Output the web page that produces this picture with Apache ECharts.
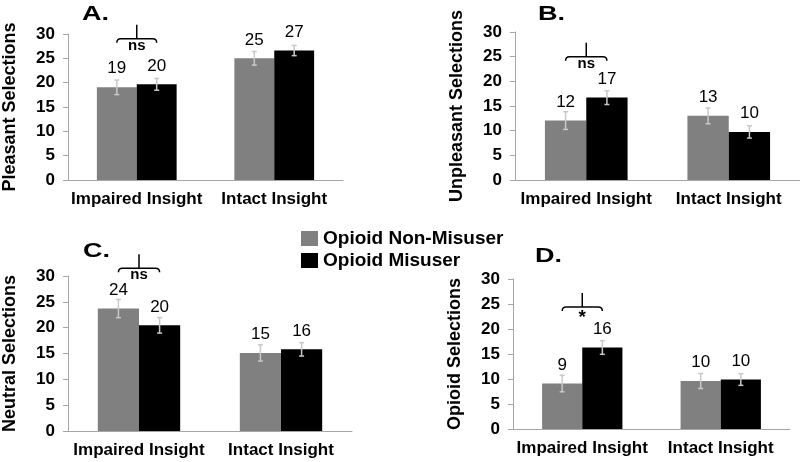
<!DOCTYPE html>
<html><head><meta charset="utf-8">
<script src="https://cdn.jsdelivr.net/npm/echarts@6/dist/echarts.min.js"></script>
<style>html,body{margin:0;padding:0;background:#fff}#c{width:800px;height:462px}</style>
</head><body><div id="c"></div>
<script>
// ---- data ----
const categories = ['Impaired Insight', 'Intact Insight'];
const seriesNames = ['Opioid Non-Misuser', 'Opioid Misuser'];
const yTickValues = [0, 5, 10, 15, 20, 25, 30];
const panelLetters = ['A.', 'B.', 'C.', 'D.'];
const yAxisNames = ['Pleasant Selections', 'Unpleasant Selections', 'Neutral Selections', 'Opioid Selections'];

const pleasantNonMisuser = [19.05, 25.0];
const pleasantMisuser = [19.65, 26.6];
const pleasantNonMisuserErr = [1.5, 1.4];
const pleasantMisuserErr = [1.2, 1.05];

const unpleasantNonMisuser = [12.05, 13.0];
const unpleasantMisuser = [16.7, 9.75];
const unpleasantNonMisuserErr = [1.8, 1.6];
const unpleasantMisuserErr = [1.4, 1.25];

const neutralNonMisuser = [23.7, 15.1];
const neutralMisuser = [20.45, 15.8];
const neutralNonMisuserErr = [1.77, 1.57];
const neutralMisuserErr = [1.5, 1.29];

const opioidNonMisuser = [9.1, 9.6];
const opioidMisuser = [16.3, 9.9];
const opioidNonMisuserErr = [1.66, 1.5];
const opioidMisuserErr = [1.36, 1.17];

const sigLabels = ['ns', 'ns', 'ns', '*'];
const sigLevels = [29.0, 25.0, 31.5, 24.4];   // bracket height (y units), over Impaired Insight

const panelNonMisuser = [pleasantNonMisuser, unpleasantNonMisuser, neutralNonMisuser, opioidNonMisuser];
const panelMisuser = [pleasantMisuser, unpleasantMisuser, neutralMisuser, opioidMisuser];
const panelNonMisuserErr = [pleasantNonMisuserErr, unpleasantNonMisuserErr, neutralNonMisuserErr, opioidNonMisuserErr];
const panelMisuserErr = [pleasantMisuserErr, unpleasantMisuserErr, neutralMisuserErr, opioidMisuserErr];

// ---- layout / style ----
const FONT = '"Liberation Sans", Arial, sans-serif';
const grids = [
  { left: 66, top: 34, width: 277, height: 146 },
  { left: 515, top: 32, width: 286, height: 148 },
  { left: 67, top: 276, width: 285, height: 155 },
  { left: 513, top: 279, width: 277, height: 150 }
];
const titlePos = [[82, 14], [538, 14], [83, 251], [535, 256]];
const colors = ['#808080', '#000000'];
const BAR_HALF = 0.145; // bar center offset as fraction of category width

const chart = echarts.init(document.getElementById('c'), null, { renderer: 'canvas' });

const xAxes = [], yAxes = [], series = [];
grids.forEach((g, p) => {
  xAxes.push({
    type: 'category', gridIndex: p, data: categories,
    axisLine: { lineStyle: { color: '#a6a6a6', width: 1 } },
    axisTick: { show: false },
    axisLabel: { fontFamily: FONT, fontWeight: 'bold', fontSize: 17, color: '#000', margin: 11, interval: 0 }
  });
  yAxes.push({
    type: 'value', gridIndex: p, min: yTickValues[0], max: yTickValues[yTickValues.length - 1],
    interval: yTickValues[1] - yTickValues[0],
    name: yAxisNames[p], nameLocation: 'middle', nameGap: 49, nameRotate: 90,
    nameTextStyle: { fontFamily: FONT, fontWeight: 'bold', fontSize: 18, color: '#000' },
    axisLine: { show: true, lineStyle: { color: '#a6a6a6', width: 1 } },
    axisTick: { show: true, length: 5, lineStyle: { color: '#a6a6a6' } },
    splitLine: { show: false },
    axisLabel: { fontFamily: FONT, fontWeight: 'bold', fontSize: 17, color: '#000', margin: 13 }
  });
  const means = [panelNonMisuser[p], panelMisuser[p]];
  const errs = [panelNonMisuserErr[p], panelMisuserErr[p]];
  means.forEach((m, s) => {
    series.push({
      type: 'bar', name: seriesNames[s], xAxisIndex: p, yAxisIndex: p,
      data: m, barGap: '0%', barCategoryGap: '42%',
      itemStyle: { color: colors[s] },
      label: {
        show: true, position: 'top', distance: 10,
        fontFamily: FONT, fontSize: 17, color: '#000',
        formatter: (d) => String(Math.round(d.value))
      }
    });
  });
  means.forEach((m, s) => {
    const side = s === 0 ? -1 : 1;
    series.push({
      type: 'custom', xAxisIndex: p, yAxisIndex: p, silent: true, clip: false, z: 5,
      encode: { x: 0, y: 1 },
      data: m.map((v, i) => [i, v, errs[s][i]]),
      renderItem(params, api) {
        const ci = api.value(0), v = api.value(1), e = api.value(2);
        const cw = api.size([1, 0])[0];
        const top = api.coord([ci, v + e]);
        const bot = api.coord([ci, v - e]);
        const x = top[0] + side * cw * BAR_HALF;
        const st = { stroke: '#c8c8c8', lineWidth: 1.5 };
        return {
          type: 'group', children: [
            { type: 'line', shape: { x1: x, y1: top[1], x2: x, y2: bot[1] }, style: st },
            { type: 'line', shape: { x1: x - 2.5, y1: top[1], x2: x + 2.5, y2: top[1] }, style: st },
            { type: 'line', shape: { x1: x - 2.5, y1: bot[1], x2: x + 2.5, y2: bot[1] }, style: st }
          ]
        };
      }
    });
  });
  // significance bracket
  series.push({
    type: 'custom', xAxisIndex: p, yAxisIndex: p, silent: true, clip: false, z: 6,
    encode: { x: 0, y: 1 },
    data: [[0, sigLevels[p]]],
    renderItem(params, api) {
      const cw = api.size([1, 0])[0];
      const c = api.coord([api.value(0), api.value(1)]);
      const x1 = c[0] - cw * BAR_HALF, x2 = c[0] + cw * BAR_HALF, y = c[1];
      const lbl = sigLabels[p];
      const star = lbl === '*';
      const path = `M${x1} ${y + 4} Q${x1} ${y} ${x1 + 4} ${y} L${x2 - 4} ${y} Q${x2} ${y} ${x2} ${y + 4} M${c[0]} ${y} L${c[0]} ${y - 14}`;
      return {
        type: 'group', children: [
          { type: 'path', shape: { pathData: path }, style: { fill: 'none', stroke: '#000', lineWidth: 1.5 } },
          { type: 'text', x: c[0], y: y + (star ? 11 : 7),
            style: { text: lbl, font: 'bold ' + (star ? 19 : 15) + 'px ' + FONT, fill: '#000', align: 'center', verticalAlign: 'middle' } }
        ]
      };
    }
  });
});

const graphic = panelLetters.map((t, i) => ({
  type: 'text', x: titlePos[i][0], y: titlePos[i][1], scaleX: 1.35,
  style: { text: t, font: 'bold 20px ' + FONT, fill: '#000', align: 'left', verticalAlign: 'middle' }
}));

chart.setOption({
  animation: false,
  backgroundColor: '#fff',
  grid: grids.map(g => Object.assign({ containLabel: false }, g)),
  xAxis: xAxes,
  yAxis: yAxes,
  series: series,
  graphic: graphic,
  legend: {
    data: seriesNames, orient: 'vertical', left: 301, top: 228, padding: 0,
    itemWidth: 17, itemHeight: 15, itemGap: 1, icon: 'rect',
    textStyle: { fontFamily: FONT, fontWeight: 'bold', fontSize: 19, color: '#000', lineHeight: 21 }
  }
});
</script></body></html>
